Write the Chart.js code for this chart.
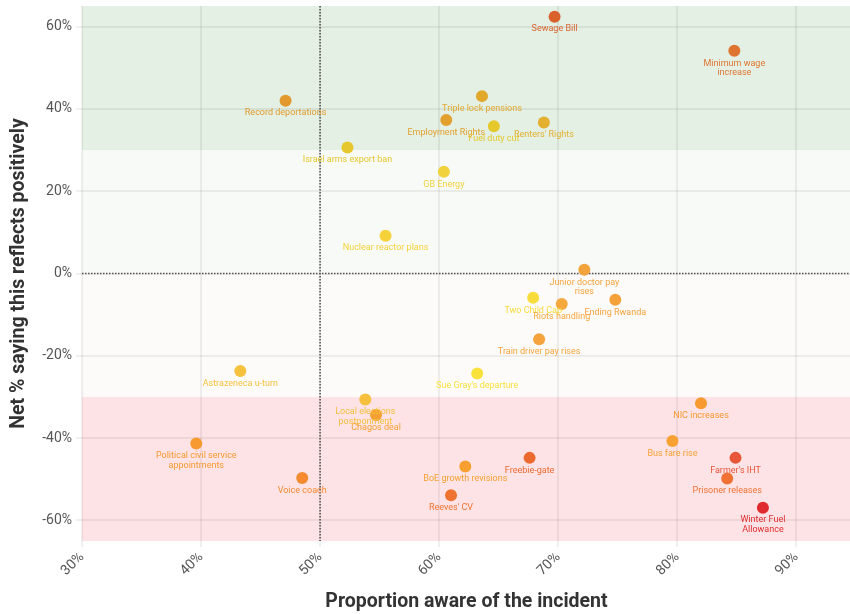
<!DOCTYPE html>
<html>
<head>
<meta charset="utf-8">
<script src="https://cdn.jsdelivr.net/npm/chart.js@4.4.1/dist/chart.umd.min.js"></script>
<style>
  html, body { margin: 0; padding: 0; background: #fff; overflow: hidden; }
  #frame { width: 850px; height: 614px; overflow: hidden; }
  /* a few px wider than the frame so the plot runs to the right edge */
  #wrap { width: 857px; height: 614px; position: relative; }
</style>
</head>
<body>
<div id="frame"><div id="wrap"><canvas id="chart"></canvas></div></div>
<script>
// values
const incidents = [
  'Sewage Bill', ['Minimum wage', 'increase'], 'Triple lock pensions', 'Employment Rights',
  'Fuel duty cut', "Renters' Rights", 'Record deportations', 'Israel arms export ban',
  'GB Energy', 'Nuclear reactor plans', ['Junior doctor pay', 'rises'], 'Two Child Cap',
  'Riots handling', 'Ending Rwanda', 'Train driver pay rises', "Sue Gray's departure",
  'Astrazeneca u-turn', ['Local elections', 'postponment'], 'Chagos deal',
  ['Political civil service', 'appointments'], 'Voice coach', 'BoE growth revisions',
  "Reeves' CV", 'Freebie-gate', 'NIC increases', 'Bus fare rise', "Farmer's IHT",
  'Prisoner releases', ['Winter Fuel', 'Allowance']
];
const awareness = [
  69.7, 84.8, 63.6, 60.6,
  64.6, 68.8, 47.1, 52.3,
  60.4, 55.5, 72.2, 67.9,
  70.3, 74.8, 68.4, 63.2,
  43.3, 53.8, 54.7,
  39.6, 48.5, 62.2,
  61.0, 67.6, 82.0, 79.6, 84.9,
  84.2, 87.2
];
const netPositive = [
  62.4, 54.1, 43.1, 37.3,
  35.8, 36.7, 42.0, 30.6,
  24.7, 9.2, 0.9, -5.9,
  -7.4, -6.4, -16.0, -24.3,
  -23.7, -30.6, -34.4,
  -41.3, -49.7, -46.9,
  -53.9, -44.8, -31.5, -40.7, -44.8,
  -49.8, -56.9
];
const pointColors = [
  '#da612c', '#de7430', '#e2a82c', '#e3a02e',
  '#e4c82c', '#e3b030', '#e29a2e', '#e6c72c',
  '#f2d23c', '#f5d23a', '#f3a33c', '#f8dc3c',
  '#f5a83c', '#f5a23c', '#f5a33c', '#f9e23c',
  '#f6c23e', '#f6c03c', '#f5a032',
  '#f79a30', '#f68a30', '#f7a030',
  '#ef7330', '#ec6a30', '#f79a30', '#f7a232', '#e8563a',
  '#ef7234', '#e02b2e'
];
const xTicks = [30, 40, 50, 60, 70, 80, 90];
const yTicks = [-60, -40, -20, 0, 20, 40, 60];
const bandEdges = [65, 30, 0, -30, -65];
const bandColors = ['#e4f0e3', '#f8faf7', '#fdfbfa', '#fde3e5'];
const refX = 50;
const refY = 0;

const FONT = 'Roboto, "Noto Sans", sans-serif';

const bands = {
  id: 'bands',
  beforeDraw(chart) {
    const { ctx, chartArea, scales } = chart;
    ctx.save();
    for (let i = 0; i < bandColors.length; i++) {
      const top = scales.y.getPixelForValue(bandEdges[i]);
      const bottom = scales.y.getPixelForValue(bandEdges[i + 1]);
      ctx.fillStyle = bandColors[i];
      ctx.fillRect(chartArea.left, top, chartArea.right - chartArea.left, bottom - top);
    }
    ctx.restore();
  }
};

const refLines = {
  id: 'refLines',
  beforeDatasetsDraw(chart) {
    const { ctx, chartArea, scales } = chart;
    const x = scales.x.getPixelForValue(refX);
    const y = scales.y.getPixelForValue(refY);
    ctx.save();
    ctx.strokeStyle = '#555';
    ctx.lineWidth = 1.6;
    ctx.setLineDash([1.5, 1.5]);
    ctx.beginPath();
    ctx.moveTo(x, chartArea.top);
    ctx.lineTo(x, chartArea.bottom);
    ctx.moveTo(chartArea.left, y);
    ctx.lineTo(chartArea.right, y);
    ctx.stroke();
    ctx.restore();
  }
};

const pointLabels = {
  id: 'pointLabels',
  afterDatasetsDraw(chart) {
    const ctx = chart.ctx;
    const meta = chart.getDatasetMeta(0);
    ctx.save();
    ctx.font = '9px ' + FONT;
    ctx.textAlign = 'center';
    ctx.textBaseline = 'middle';
    meta.data.forEach((pt, i) => {
      const lines = [].concat(incidents[i]);
      ctx.fillStyle = pointColors[i];
      lines.forEach((line, j) => {
        ctx.fillText(line, pt.x, pt.y + 12.5 + j * 9.7);
      });
    });
    ctx.restore();
  }
};

const gridColor = 'rgba(0,0,0,0.06)';

new Chart(document.getElementById('chart'), {
  type: 'scatter',
  data: {
    datasets: [{
      data: awareness.map((x, i) => ({ x: x, y: netPositive[i] })),
      backgroundColor: pointColors,
      borderWidth: 0,
      pointRadius: 6,
      pointHoverRadius: 6
    }]
  },
  options: {
    responsive: true,
    maintainAspectRatio: false,
    animation: false,
    layout: { padding: { top: 3, right: 0, bottom: 0, left: 0 } },
    plugins: {
      legend: { display: false },
      tooltip: { enabled: false }
    },
    scales: {
      x: {
        type: 'linear',
        min: 30,
        max: 94.6,
        afterBuildTicks: (s) => { s.ticks = xTicks.map(v => ({ value: v })); },
        afterFit: (s) => {
          s.height = 73;
          s.paddingLeft = 0;
          s.paddingRight = 0;
        },
        ticks: {
          callback: (v) => v + '%',
          minRotation: 45,
          maxRotation: 45,
          padding: 2,
          color: '#555',
          font: { family: FONT, size: 14 }
        },
        grid: { color: gridColor, lineWidth: 2, tickLength: 6 },
        border: { display: false },
        title: {
          display: true,
          text: 'Proportion aware of the incident',
          color: '#333',
          font: { family: FONT, size: 19.5, weight: 'bold' },
          padding: { top: 0, bottom: 0 }
        }
      },
      y: {
        type: 'linear',
        min: -65,
        max: 65,
        afterBuildTicks: (s) => { s.ticks = yTicks.map(v => ({ value: v })); },
        afterFit: (s) => {
          s.width = 82;
          s.paddingTop = 0;
          s.paddingBottom = 0;
        },
        ticks: {
          callback: (v) => v + '%',
          padding: 4,
          color: '#555',
          font: { family: FONT, size: 14 }
        },
        grid: { color: gridColor, lineWidth: 2, tickLength: 6 },
        border: { display: false },
        title: {
          display: true,
          text: 'Net % saying this reflects positively',
          color: '#333',
          font: { family: FONT, size: 19.5, weight: 'bold' },
          padding: { top: 7, bottom: 0 }
        }
      }
    }
  },
  plugins: [bands, refLines, pointLabels]
});
</script>
</body>
</html>
